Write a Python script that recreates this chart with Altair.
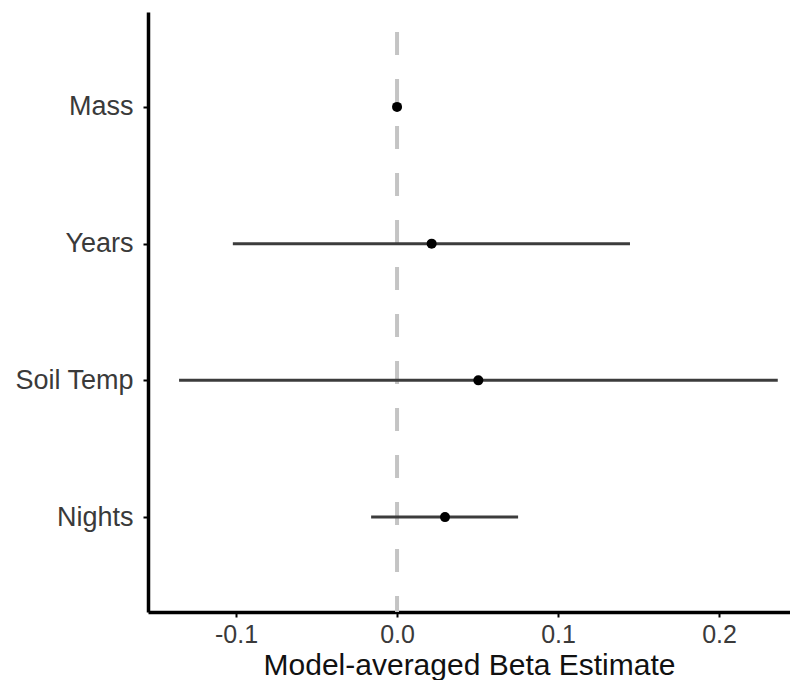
import altair as alt
import pandas as pd

terms = ["Mass", "Years", "Soil Temp", "Nights"]
estimate = [0.0, 0.0215, 0.0505, 0.0298]
lower = [-0.0005, -0.102, -0.1354, -0.0161]
upper = [0.0005, 0.1447, 0.2365, 0.0752]
x_ticks = [-0.1, 0.0, 0.1, 0.2]

df = pd.DataFrame({"term": terms, "est": estimate, "lo": lower, "hi": upper})
zero_df = pd.DataFrame({"zero": [0.0]})

font = "Liberation Sans"
xscale = alt.Scale(domain=[-0.1547, 0.2441], nice=False, zero=False)
yscale = alt.Scale(type="point", domain=terms, padding=0.694)

xaxis = alt.Axis(
    values=x_ticks,
    labelExpr="replace(format(datum.value, '.1f'), '\u2212', '-')",
    title="Model-averaged Beta Estimate",
    grid=False,
    domainColor="black", domainWidth=3.5,
    tickColor="black", tickWidth=2, tickSize=5,
    labelFont=font, labelFontSize=25, labelColor="#3a3a3a", labelPadding=5,
    titleFont=font, titleFontSize=30, titleFontWeight="normal", titleColor="#111111",
    titlePadding=3,
)
yaxis = alt.Axis(
    title=None, grid=False,
    domainColor="black", domainWidth=3.5,
    tickColor="black", tickWidth=2, tickSize=5,
    labelFont=font, labelFontSize=27, labelColor="#3a3a3a", labelPadding=10,
)

vline = alt.Chart(zero_df).mark_rule(
    color="#c4c4c4", strokeWidth=4, strokeDash=[23, 24], strokeDashOffset=27
).encode(x=alt.X("zero:Q", scale=xscale, axis=xaxis))

ci = alt.Chart(df).mark_rule(color="#3c3c3c", strokeWidth=3).encode(
    x=alt.X("lo:Q", scale=xscale, axis=xaxis),
    x2="hi:Q",
    y=alt.Y("term:N", scale=yscale, axis=yaxis, sort=terms),
)

pts = alt.Chart(df).mark_point(filled=True, color="black", size=100, opacity=1).encode(
    x=alt.X("est:Q", scale=xscale, axis=xaxis),
    y=alt.Y("term:N", scale=yscale, axis=yaxis, sort=terms),
)

chart = (
    alt.layer(vline, ci, pts)
    .properties(width=642, height=600, background="white",
                padding={"left": 6, "top": 2, "right": 0, "bottom": 0})
    .configure_view(strokeWidth=0, stroke="transparent")
)

chart.save("out.html", embed_options={"renderer": "svg", "actions": False})
